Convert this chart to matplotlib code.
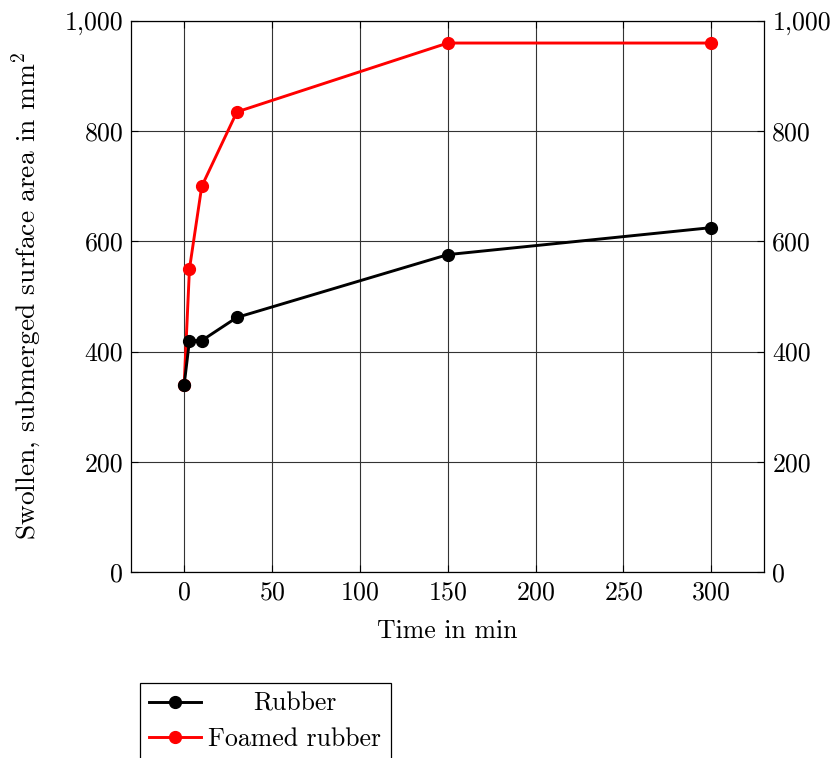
import matplotlib
matplotlib.use("Agg")
import matplotlib.pyplot as plt
from matplotlib.ticker import FuncFormatter
from matplotlib.transforms import Affine2D

plt.rcParams.update({
    "font.family": "cmr10",
    "mathtext.fontset": "cm",
    "axes.formatter.use_mathtext": True,
    "font.size": 18.6,
})

time_min = [0, 3, 10, 30, 150, 300]
rubber = [340, 420, 420, 462, 576, 625]
foamed_rubber = [340, 550, 700, 835, 960, 960]
x_ticks = [0, 50, 100, 150, 200, 250, 300]
y_ticks = [0, 200, 400, 600, 800, 1000]

fig = plt.figure(figsize=(8.39, 7.58), dpi=100)
ax = fig.add_axes([0.1567, 0.2454, 0.7539, 0.7269])

ax.plot(time_min, rubber, "-o", color="black", lw=2.1, ms=8.5, label="Rubber", zorder=4)
ax.plot(time_min, foamed_rubber, "-o", color="#ff0000", lw=2.1, ms=8.5, label="Foamed rubber", zorder=3)

ax.set_xlim(-30, 330)
ax.set_ylim(0, 1000)
ax.set_xticks(x_ticks)
ax.set_yticks(y_ticks)
ax.yaxis.set_major_formatter(FuncFormatter(lambda v, p: f"{int(v):,}"))
ax.grid(True, color="#333333", lw=0.8)
ax.set_axisbelow(True)
ax.tick_params(direction="in", length=5, width=0.8, right=True, labelright=True, top=True, pad=6)
for s in ax.spines.values():
    s.set_linewidth(0.9)

ax.set_xlabel("Time in min", labelpad=11)
ax.set_ylabel(r"Swollen, submerged surface area in mm$^2$", labelpad=15, fontsize=19.8)

leg = fig.legend(loc="upper left", bbox_to_anchor=(140 / 839, 1 - 683 / 758),
                 frameon=True, fancybox=False, edgecolor="black", framealpha=1,
                 handlelength=2.0, handletextpad=0.3, borderpad=0.35, labelspacing=0.45,
                 borderaxespad=0)
leg.get_frame().set_linewidth(0.9)

# center the legend labels like pgfplots does
fig.canvas.draw()
r = fig.canvas.get_renderer()
texts = leg.get_texts()
wmax = max(t.get_window_extent(r).width for t in texts)
for t in texts:
    dx = (wmax - t.get_window_extent(r).width) / 2
    if dx > 0:
        t.set_transform(Affine2D().translate(dx, 0) + t.get_transform())

fig.savefig("out.png", dpi=100)
